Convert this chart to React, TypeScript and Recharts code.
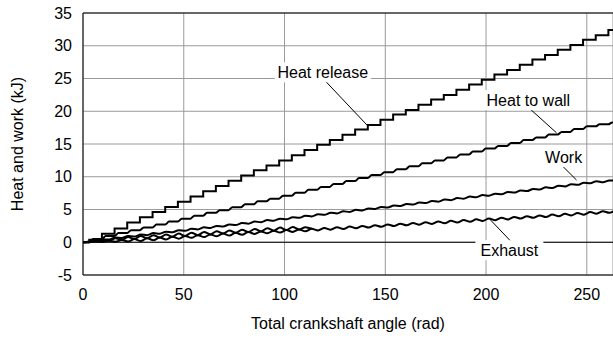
import React from 'react';
import { LineChart, Line, XAxis, YAxis, CartesianGrid, ReferenceLine, ReferenceDot } from 'recharts';

// Start angle of each engine cycle (rad)
const cycleStart = [0, 6.28, 12.57, 18.85, 25.13, 31.42, 37.7, 43.98, 50.27, 56.55,
  62.83, 69.12, 75.4, 81.68, 87.96, 94.25, 100.53, 106.81, 113.1, 119.38,
  125.66, 131.95, 138.23, 144.51, 150.8, 157.08, 163.36, 169.65, 175.93, 182.21,
  188.5, 194.78, 201.06, 207.35, 213.63, 219.91, 226.19, 232.48, 238.76, 245.04,
  251.33, 257.61, 263.89];

// phase (rad) inside a cycle
const combustionPhase = 3.1;
const wallRiseEndPhase = 5.0;
const bdcPhase = 0.4;
const midPhase = 3.54;

// cumulative heat release after each combustion (kJ)
const heatRelease = [0.4, 1.3, 2.1, 3.0, 3.8, 4.6, 5.4, 6.2, 7.0, 7.8, 8.6, 9.4, 10.2, 11.0, 11.7, 12.5,
  13.3, 14.1, 14.9, 15.6, 16.4, 17.2, 17.9, 18.7, 19.5, 20.2, 21.0, 21.8, 22.5, 23.3, 24.1, 24.8,
  25.6, 26.3, 27.1, 27.9, 28.6, 29.4, 30.1, 30.9, 31.6, 32.4];

// cumulative heat to wall after each cycle (kJ)
const heatToWall = [0.5, 0.95, 1.4, 1.85, 2.25, 2.7, 3.15, 3.6, 4.05, 4.5, 4.9, 5.35, 5.8, 6.25, 6.65, 7.1,
  7.55, 8.0, 8.45, 8.9, 9.35, 9.8, 10.25, 10.7, 11.15, 11.6, 12.05, 12.5, 12.95, 13.4, 13.85, 14.3,
  14.7, 15.15, 15.6, 16.0, 16.45, 16.85, 17.3, 17.7, 18.0, 18.3];

// cumulative work at cycle boundary and at mid-cycle (kJ)
const workBoundary = [0, 0.2, 0.42, 0.64, 0.86, 1.08, 1.3, 1.52, 1.74, 1.96, 2.18, 2.4, 2.62, 2.84, 3.06, 3.28,
  3.5, 3.73, 3.95, 4.18, 4.4, 4.63, 4.85, 5.08, 5.3, 5.53, 5.75, 5.98, 6.2, 6.43, 6.65, 6.88,
  7.1, 7.34, 7.58, 7.81, 8.05, 8.29, 8.53, 8.76, 9.0, 9.15, 9.4];
const workMid = [0.15, 0.45, 0.73, 0.96, 1.18, 1.4, 1.62, 1.84, 2.06, 2.28, 2.5, 2.72, 2.94, 3.16, 3.38, 3.6,
  3.82, 4.05, 4.27, 4.5, 4.72, 4.95, 5.17, 5.4, 5.62, 5.85, 6.07, 6.3, 6.52, 6.75, 6.97, 7.2,
  7.42, 7.67, 7.91, 8.14, 8.38, 8.62, 8.86, 9.09, 9.33, 9.42];

// cumulative exhaust energy at cycle boundary (cusps) and mid-cycle (troughs) (kJ)
const exhaustCusp = [0, 0.12, 0.24, 0.36, 0.48, 0.6, 0.72, 0.84, 0.96, 1.08, 1.2, 1.32, 1.44, 1.56, 1.66, 1.76,
  1.86, 1.96, 2.06, 2.17, 2.28, 2.39, 2.5, 2.61, 2.72, 2.83, 2.94, 3.05, 3.16, 3.27, 3.38, 3.5,
  3.62, 3.74, 3.86, 3.98, 4.1, 4.22, 4.34, 4.46, 4.6, 4.74, 4.88];
const exhaustTrough = [0.03, 0.05, 0.08, 0.1, 0.19, 0.31, 0.43, 0.55, 0.67, 0.79, 0.91, 1.03, 1.15, 1.27, 1.37, 1.47,
  1.57, 1.67, 1.81, 1.92, 2.03, 2.14, 2.25, 2.36, 2.47, 2.58, 2.69, 2.8, 2.91, 3.02, 3.13, 3.25,
  3.37, 3.49, 3.61, 3.73, 3.85, 3.97, 4.09, 4.21, 4.35, 4.5];
// upper arcs of the early exhaust loops (cycles 1..17)
const exhaustLoopTop = [0.35, 0.6, 0.8, 0.95, 1.08, 1.2, 1.32, 1.44, 1.56, 1.68, 1.8, 1.92, 2.04, 2.14, 2.24, 2.32, 2.3];

const xTicks = [0, 50, 100, 150, 200, 250];
const yTicks = [-5, 0, 5, 10, 15, 20, 25, 30, 35];

type P = { a: number; v: number };

const hrData: P[] = [{ a: 0, v: 0 }];
heatRelease.forEach((v, k) => hrData.push({ a: cycleStart[k] + combustionPhase, v }));
hrData.push({ a: cycleStart[42], v: heatRelease[41] });

const htwData: P[] = [{ a: 0, v: 0 }];
heatToWall.forEach((v, k) => {
  htwData.push({ a: cycleStart[k] + combustionPhase, v: k === 0 ? 0 : heatToWall[k - 1] });
  htwData.push({ a: cycleStart[k] + wallRiseEndPhase, v });
});
htwData.push({ a: cycleStart[42], v: heatToWall[41] });

const workData: P[] = [{ a: 0, v: 0 }];
workMid.forEach((v, k) => {
  workData.push({ a: cycleStart[k] + bdcPhase, v: workBoundary[k] });
  workData.push({ a: cycleStart[k] + midPhase, v });
});
workData.push({ a: cycleStart[42] + bdcPhase, v: workBoundary[42] });

const exData: P[] = [{ a: 0, v: 0 }];
exhaustTrough.forEach((v, k) => {
  exData.push({ a: cycleStart[k] + bdcPhase, v: exhaustCusp[k] });
  exData.push({ a: cycleStart[k] + midPhase, v });
});
exData.push({ a: cycleStart[42] + bdcPhase, v: exhaustCusp[42] });

const loopData: P[] = [];
exhaustLoopTop.forEach((v, i) => {
  const k = i + 1;
  loopData.push({ a: cycleStart[k] + bdcPhase, v: exhaustCusp[k] });
  loopData.push({ a: cycleStart[k] + midPhase, v });
});
loopData.push({ a: cycleStart[18] + bdcPhase, v: exhaustCusp[18] });

const FONT = '"Liberation Sans", Arial, Helvetica, sans-serif';

const annot = (text: string, w: number) => (p: any) => (
  <g>
    <rect x={p.cx - w / 2} y={p.cy - 10} width={w} height={20} fill="#fff" />
    <text x={p.cx} y={p.cy} textAnchor="middle" dominantBaseline="central" fontSize={16} fontFamily={FONT} fill="#000">
      {text}
    </text>
  </g>
);

export default function App() {
  return (
    <div style={{ position: 'absolute', left: 0, top: 0, background: '#fff' }}>
      <LineChart width={613} height={338} margin={{ top: 13, right: 0, bottom: 0, left: 0 }}>
        <CartesianGrid stroke="#9a9a9a" strokeWidth={1} />
        <XAxis
          type="number"
          dataKey="a"
          domain={[0, 263]}
          ticks={xTicks}
          allowDataOverflow
          height={63}
          tickLine={false}
          tickMargin={8}
          axisLine={{ stroke: '#000', strokeWidth: 1 }}
          tick={{ fill: '#000', fontSize: 16, fontFamily: FONT }}
          label={{ value: 'Total crankshaft angle (rad)', position: 'insideBottom', offset: 9, fill: '#000', fontSize: 16, fontFamily: FONT }}
        />
        <YAxis
          type="number"
          domain={[-5, 35]}
          ticks={yTicks}
          allowDataOverflow
          width={83}
          tickLine={false}
          tickMargin={5}
          axisLine={{ stroke: '#000', strokeWidth: 1 }}
          tick={{ fill: '#000', fontSize: 16, fontFamily: FONT }}
          label={{ value: 'Heat and work (kJ)', angle: -90, position: 'center', dx: -24, fill: '#000', fontSize: 16, fontFamily: FONT }}
        />
        <ReferenceLine y={0} stroke="#000" strokeWidth={1} />
        <ReferenceLine y={35} stroke="#000" strokeWidth={1} />
        <Line data={hrData} dataKey="v" type="stepAfter" stroke="#000" strokeWidth={2} dot={false} activeDot={false} isAnimationActive={false} />
        <Line data={htwData} dataKey="v" type="monotone" stroke="#000" strokeWidth={2} dot={false} activeDot={false} isAnimationActive={false} />
        <Line data={workData} dataKey="v" type="monotone" stroke="#000" strokeWidth={2} dot={false} activeDot={false} isAnimationActive={false} />
        <Line data={exData} dataKey="v" type="monotone" stroke="#000" strokeWidth={2} dot={false} activeDot={false} isAnimationActive={false} />
        <Line data={loopData} dataKey="v" type="monotone" stroke="#000" strokeWidth={2} dot={false} activeDot={false} isAnimationActive={false} />
        <ReferenceLine segment={[{ x: 120.0, y: 24.7 }, { x: 140.9, y: 17.9 }]} stroke="#000" strokeWidth={1} />
        <ReferenceLine segment={[{ x: 220.6, y: 20.7 }, { x: 235.0, y: 16.7 }]} stroke="#000" strokeWidth={1} />
        <ReferenceLine segment={[{ x: 237.4, y: 11.8 }, { x: 244.9, y: 9.5 }]} stroke="#000" strokeWidth={1} />
        <ReferenceLine segment={[{ x: 212.6, y: 0.05 }, { x: 202.0, y: 3.47 }]} stroke="#000" strokeWidth={1} />
        <ReferenceDot x={119.0} y={25.95} r={0} shape={annot('Heat release', 96)} />
        <ReferenceDot x={221.0} y={21.7} r={0} shape={annot('Heat to wall', 88)} />
        <ReferenceDot x={238.5} y={13.0} r={0} shape={annot('Work', 42)} />
        <ReferenceDot x={211.6} y={-1.22} r={0} shape={annot('Exhaust', 68)} />
      </LineChart>
    </div>
  );
}
